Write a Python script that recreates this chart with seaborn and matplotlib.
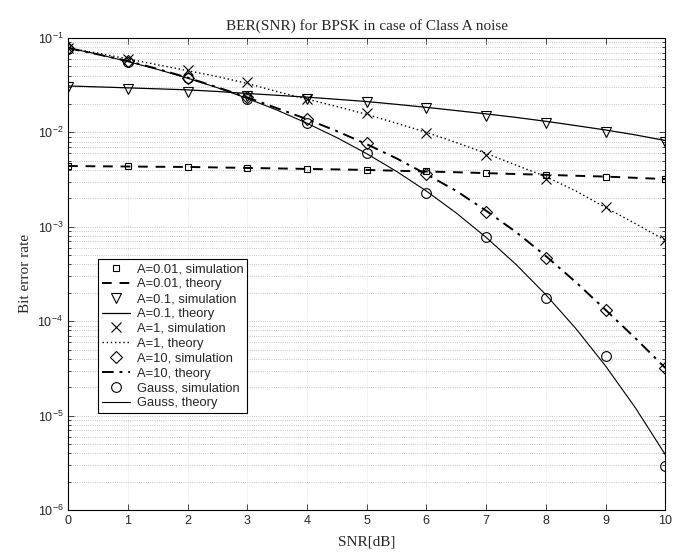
import matplotlib
matplotlib.use("Agg")
import matplotlib.pyplot as plt
import seaborn as sns
import numpy as np
import pandas as pd

# SNR points (dB) for simulations
snr = [0, 1, 2, 3, 4, 5, 6, 7, 8, 9, 10]
# finer SNR grid for the theory curves
snrFine = [0, 0.5, 1, 1.5, 2, 2.5, 3, 3.5, 4, 4.5, 5, 5.5, 6, 6.5, 7, 7.5, 8, 8.5, 9, 9.5, 10]

# simulation results
simA001 = [4.4e-3, 4.35e-3, 4.3e-3, 4.2e-3, 4.1e-3, 4.0e-3, 3.85e-3, 3.7e-3, 3.55e-3, 3.4e-3, 3.2e-3]
simA01 = [0.030, 0.029, 0.0268, 0.024, 0.0226, 0.021, 0.018, 0.0149, 0.0126, 0.0102, 0.0080]
simA1 = [0.078, 0.060, 0.046, 0.034, 0.0226, 0.0161, 0.0099, 0.0058, 0.0032, 0.0016, 0.00073]
simA10 = [0.078, 0.057, 0.038, 0.0235, 0.014, 0.0078, 0.0036, 0.00144, 4.7e-4, 1.32e-4, 3.2e-5]
simGauss = [0.0765, 0.0560, 0.0375, 0.0228, 0.0126, 0.0061, 0.0023, 7.8e-4, 1.78e-4, 4.3e-5, 2.9e-6]

# theory curves
thA001 = [4.4e-3, 4.37e-3, 4.35e-3, 4.32e-3, 4.3e-3, 4.25e-3, 4.2e-3, 4.15e-3, 4.1e-3, 4.05e-3, 4.0e-3,
          3.92e-3, 3.85e-3, 3.78e-3, 3.7e-3, 3.62e-3, 3.55e-3, 3.47e-3, 3.4e-3, 3.3e-3, 3.2e-3]
thA01 = [0.031, 0.0303, 0.0296, 0.0289, 0.0282, 0.0271, 0.0258, 0.0247, 0.0236, 0.0224, 0.0212,
         0.0198, 0.0184, 0.0170, 0.0157, 0.0144, 0.0131, 0.0118, 0.0106, 0.0094, 0.0082]
thA1 = [0.078, 0.069, 0.060, 0.052, 0.045, 0.039, 0.033, 0.027, 0.0225, 0.0188, 0.0155,
        0.0125, 0.0100, 0.0078, 0.0060, 0.0045, 0.0034, 0.0024, 0.0016, 0.00108, 0.00072]
thA10 = [0.078, 0.067, 0.057, 0.047, 0.038, 0.030, 0.0235, 0.018, 0.0138, 0.0103, 0.0075,
         0.0053, 0.0036, 0.0024, 0.00148, 0.00088, 4.9e-4, 2.6e-4, 1.32e-4, 6.6e-5, 3.2e-5]
thGauss = [0.0786, 0.0671, 0.0563, 0.0464, 0.0375, 0.0297, 0.0229, 0.0172, 0.0125, 0.0088, 0.00595,
           0.00386, 0.00239, 0.0014, 7.73e-4, 4.0e-4, 1.91e-4, 8.4e-5, 3.36e-5, 1.21e-5, 3.87e-6]

yTicks = [1e-6, 1e-5, 1e-4, 1e-3, 1e-2, 1e-1]

sns.set_style("ticks")
plt.rcParams['mathtext.default'] = 'regular'

fig = plt.figure(figsize=(6.74, 5.58), dpi=100)
ax = fig.add_axes([0.101, 0.086, 0.886, 0.846])

simStyle = dict(linestyle='', color='black', markerfacecolor='none',
                markeredgecolor='black', markeredgewidth=0.8)

series = [
    (simA001, thA001, 's', 5, (0, (5, 4)), 1.4, 'A=0.01'),
    (simA01, thA01, 'v', 7.5, '-', 0.9, 'A=0.1'),
    (simA1, thA1, 'x', 7, (0, (1, 2)), 1.0, 'A=1'),
    (simA10, thA10, 'D', 6, (0, (6, 3, 1.5, 3)), 1.4, 'A=10'),
    (simGauss, thGauss, 'o', 7, '-', 0.8, 'Gauss'),
]

for sim, th, mk, ms, ls, lw, name in series:
    sns.lineplot(x=snr, y=sim, ax=ax, marker=mk, markersize=ms,
                 label=f'{name}, simulation', **simStyle)
    sns.lineplot(x=snrFine, y=th, ax=ax, color='black', linestyle=ls,
                 linewidth=lw, label=f'{name}, theory')

ax.set_yscale('log')
ax.set_xlim(0, 10)
ax.set_ylim(1e-6, 1e-1)
ax.set_xticks(snr)
ax.set_yticks(yTicks)
ax.tick_params(which='both', direction='in', top=True, right=True,
               labelsize=9, width=0.6)
ax.tick_params(which='major', length=4)
ax.tick_params(which='minor', length=2)
for lab in ax.get_xticklabels() + ax.get_yticklabels():
    lab.set_family('Liberation Sans')
for sp in ax.spines.values():
    sp.set_linewidth(0.8)
    sp.set_color('black')

ax.grid(True, which='major', axis='y', linestyle=':', linewidth=0.6, color='0.7')
ax.grid(True, which='minor', axis='y', linestyle=':', linewidth=0.6, color='0.7')
ax.grid(True, which='major', axis='x', linestyle=':', linewidth=0.5, color='0.85')

ax.set_title('BER(SNR) for BPSK in case of Class A noise', fontsize=11,
             family='Liberation Serif', pad=6)
ax.set_xlabel('SNR[dB]', fontsize=11, family='Liberation Serif', labelpad=6)
ax.set_ylabel('Bit error rate', fontsize=11, family='Liberation Serif', labelpad=4)

leg = ax.legend(loc='lower left', bbox_to_anchor=(0.05, 0.205),
                prop={'family': 'Liberation Sans', 'size': 9.3},
                frameon=True, fancybox=False, edgecolor='black',
                labelspacing=0.22, handlelength=2.2, handletextpad=0.5,
                borderpad=0.3, borderaxespad=0, framealpha=1)
leg.get_frame().set_linewidth(0.8)

fig.savefig('out.png', dpi=100)
